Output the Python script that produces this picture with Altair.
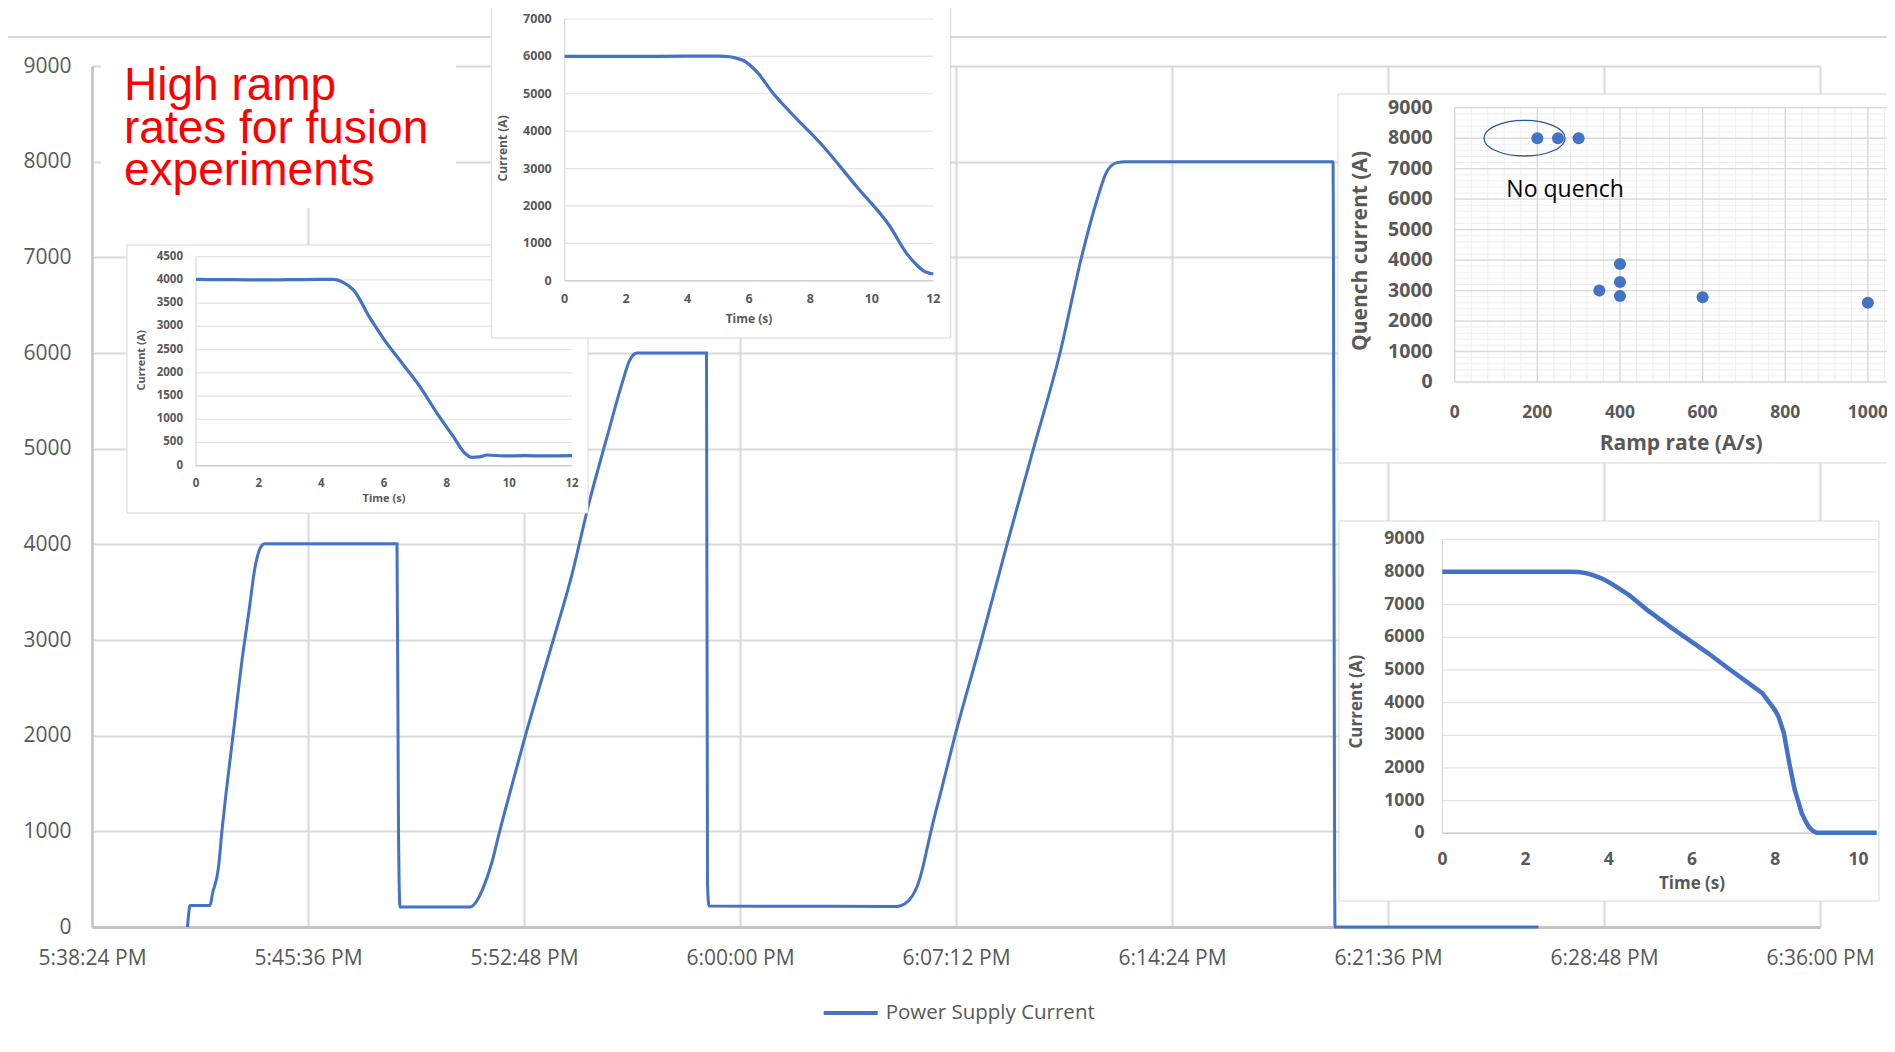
import altair as alt
import pandas as pd

# ---------------- main trace (seconds after 5:38:24 PM, amps) ----------------
SERIES = "Power Supply Current"
MAIN_T = [191, 193, 196, 236, 241, 253, 260, 268, 284, 299, 314, 326, 334, 340, 345,
          610, 613, 616, 756, 768, 783, 799, 814, 837, 864, 883, 922, 960, 995, 1030,
          1060, 1075, 1090, 1229, 1231, 1234, 1610, 1625, 1640, 1650, 1660, 1668, 1677,
          1700, 1726, 1779, 1830, 1883, 1936, 1979, 2010, 2030, 2050, 2066, 2482, 2486, 2893]
MAIN_I = [0, 120, 226, 226, 348, 626, 1009, 1391, 2087, 2748, 3304, 3757, 3930, 3990, 4007,
          4007, 1000, 209, 209, 261, 417, 661, 974, 1426, 1948, 2296, 2991, 3687, 4452, 5120,
          5680, 5920, 6000, 6000, 450, 220, 215, 240, 320, 420, 590, 770, 980,
          1460, 2000, 3000, 4000, 5000, 6000, 7000, 7600, 7900, 7990, 8000, 8000, 0, 0]
X_TICKS = ["17:38:24", "17:45:36", "17:52:48", "18:00:00", "18:07:12",
           "18:14:24", "18:21:36", "18:28:48", "18:36:00"]
Y_TICKS = [0, 1000, 2000, 3000, 4000, 5000, 6000, 7000, 8000, 9000]

TITLE_LINES = ["High ramp", "rates for fusion", "experiments"]

# ---------------- inset: 4000 A discharge ----------------
L_T = [0, 1, 2, 3, 4, 4.39, 4.71, 5.03, 5.56, 6.0, 6.62, 7.2, 7.69, 8.22, 8.54, 8.81,
       9.05, 9.29, 9.82, 10.5, 11.2, 12]
L_I = [4010, 4005, 4000, 4005, 4010, 4010, 3940, 3780, 3170, 2720, 2170, 1650, 1130, 620,
       300, 180, 190, 230, 210, 215, 212, 215]
L_XT = [0, 2, 4, 6, 8, 10, 12]
L_YT = [0, 500, 1000, 1500, 2000, 2500, 3000, 3500, 4000, 4500]

# ---------------- inset: 6000 A discharge ----------------
T_T = [0, 2, 4, 5.0, 5.38, 5.6, 5.82, 6.25, 6.79, 7.33, 8.42, 9.5, 10.59, 11.13, 11.46, 11.67, 12]
T_I = [6000, 6000, 6005, 6005, 5990, 5950, 5890, 5590, 5010, 4520, 3590, 2520, 1450, 730,
       420, 270, 180]
T_XT = [0, 2, 4, 6, 8, 10, 12]
T_YT = [0, 1000, 2000, 3000, 4000, 5000, 6000, 7000]

# ---------------- inset: 8000 A discharge ----------------
B_T = [0, 1, 2, 3.0, 3.27, 3.45, 3.62, 3.85, 4.05, 4.25, 4.48, 4.92, 5.52, 6.39, 6.82, 7.69,
       7.99, 8.08, 8.21, 8.34, 8.47, 8.64, 8.74, 8.81, 8.9, 8.99, 9.3, 10.44]
B_I = [8010, 8010, 8005, 8008, 8000, 7965, 7905, 7790, 7650, 7490, 7300, 6840, 6280, 5510,
       5100, 4290, 3780, 3570, 3060, 2140, 1330, 610, 350, 200, 80, 20, 20, 20]
B_XT = [0, 2, 4, 6, 8, 10]
B_YT = [0, 1000, 2000, 3000, 4000, 5000, 6000, 7000, 8000, 9000]

# ---------------- inset: quench current vs ramp rate ----------------
S_RATE = [200, 250, 300, 350, 400, 400, 400, 600, 1000]
S_QI = [8000, 8000, 8000, 3000, 3870, 3280, 2820, 2780, 2600]
S_XT = [0, 200, 400, 600, 800, 1000]
S_YT = [0, 1000, 2000, 3000, 4000, 5000, 6000, 7000, 8000, 9000]
S_MINOR_X = list(range(0, 1101, 40))
S_MINOR_Y = list(range(0, 9001, 200))
NOTE_TEXT = ["No quench"]
NOTE_RATE = [125]
NOTE_I = [6300]
RING_RATE = [169]
RING_I = [8000]

# ---------------- layout constants ----------------
W, H = 1728, 861
BLUE = "#4472C4"
GREY = "#595959"
ONE = pd.DataFrame({"k": [0]})
BASE = pd.Timestamp("2024-01-01 17:38:24")
ELLIPSE = "M-1,0A1,0.44,0,1,0,1,0A1,0.44,0,1,0,-1,0Z"


def dt(hms):
    h, m, s = (int(p) for p in hms.split(":"))
    return alt.DateTime(year=2024, month=1, date=1, hours=h, minutes=m, seconds=s)


def box(x0, x1, y0, y1, stroke="#d9d9d9", sw=1):
    return alt.Chart(ONE).mark_rect(fill="white", stroke=stroke, strokeWidth=sw).encode(
        x=alt.value(x0), x2=alt.value(x1), y=alt.value(y0), y2=alt.value(y1))


def hrules(vals, xs, ys, x0, x1, color, sw):
    return alt.Chart(pd.DataFrame({"v": vals})).mark_rule(color=color, strokeWidth=sw).encode(
        y=alt.Y("v:Q", scale=ys, axis=None),
        x=alt.X(datum=x0, scale=xs, axis=None), x2=alt.X2(datum=x1))


def vrules(vals, xs, ys, y0, y1, color, sw):
    return alt.Chart(pd.DataFrame({"v": vals})).mark_rule(color=color, strokeWidth=sw).encode(
        x=alt.X("v:Q", scale=xs, axis=None),
        y=alt.Y(datum=y0, scale=ys, axis=None), y2=alt.Y2(datum=y1))


def guides(xs, ys, xdom, ydom, xt, yt, lab, tsz, xlab_dy, ylab_dx, xtitle, xtitle_dy,
           ytitle, ytitle_px, ytitle_v, xlab=None):
    """Tick labels and titles of an inset, placed through the inset's own scales."""
    style = dict(font="Open Sans", fontWeight="bold", color=GREY)
    xl = alt.Chart(pd.DataFrame({"v": xt})).mark_text(
        align="center", baseline="middle", dy=xlab_dy, fontSize=xlab or lab, **style).encode(
        x=alt.X("v:Q", scale=xs, axis=None), y=alt.Y(datum=ydom[0], scale=ys, axis=None),
        text=alt.Text("v:Q", format="d"))
    yl = alt.Chart(pd.DataFrame({"v": yt})).mark_text(
        align="right", baseline="middle", dx=ylab_dx, fontSize=lab, **style).encode(
        y=alt.Y("v:Q", scale=ys, axis=None), x=alt.X(datum=xdom[0], scale=xs, axis=None),
        text=alt.Text("v:Q", format="d"))
    xtl = alt.Chart(ONE).mark_text(
        align="center", baseline="middle", dy=xtitle_dy, fontSize=tsz, **style).encode(
        x=alt.X(datum=xtitle[0], scale=xs, axis=None), y=alt.Y(datum=ydom[0], scale=ys, axis=None),
        text=alt.value(xtitle[1]))
    ytl = alt.Chart(ONE).mark_text(
        align="center", baseline="middle", angle=270, fontSize=tsz, **style).encode(
        x=alt.value(ytitle_px), y=alt.Y(datum=ytitle_v, scale=ys, axis=None),
        text=alt.value(ytitle))
    return [xl, yl, xtl, ytl]


def curve_inset(t, i, xdom, xr, ydom, yr, xt, yt, bx, lab, tsz, pads, sw, interp):
    xs = alt.Scale(domain=xdom, range=xr, nice=False, zero=False)
    ys = alt.Scale(domain=ydom, range=yr, nice=False, zero=False)
    bg = box(*bx)
    grid = hrules(yt, xs, ys, xdom[0], xdom[1], "#e3e3e3", 1.2)
    base = hrules([ydom[0]], xs, ys, xdom[0], xdom[1], "#cfcfcf", 1.5)
    vax = vrules([xdom[0]], xs, ys, ydom[0], ydom[1], "#d9d9d9", 1.2)
    line = alt.Chart(pd.DataFrame({"t": t, "i": i})).mark_line(
        color=BLUE, strokeWidth=sw, interpolate=interp).encode(
        x=alt.X("t:Q", scale=xs, axis=None), y=alt.Y("i:Q", scale=ys, axis=None))
    g = guides(xs, ys, xdom, ydom, xt, yt, lab, tsz, pads[0], pads[1], (pads[2], "Time (s)"),
               pads[3], "Current (A)", pads[4], pads[5])
    return alt.layer(bg, grid, base, vax, line, *g)


# ---------------- main chart ----------------
main_df = pd.DataFrame({"t": BASE + pd.to_timedelta(MAIN_T, unit="s"),
                        "I": MAIN_I, "series": [SERIES] * len(MAIN_T)})

main = alt.Chart(main_df).mark_line(strokeWidth=3, interpolate="monotone").encode(
    x=alt.X("t:T", scale=alt.Scale(domain=[dt(X_TICKS[0]), dt(X_TICKS[-1])]),
            axis=alt.Axis(orient="bottom", values=[dt(v) for v in X_TICKS], format="%-I:%M:%S %p",
                          formatType="time", title=None, grid=True, gridColor="#d9d9d9", gridWidth=2,
                          domainColor="#c4c4c4", domainWidth=3, ticks=False, tickSize=0,
                          labelFont="Open Sans", labelFontSize=21, labelColor=GREY, labelPadding=20,
                          labelFlush=False, labelOverlap=False, labelBound=False)),
    y=alt.Y("I:Q", scale=alt.Scale(domain=[0, 9000], nice=False, zero=False),
            axis=alt.Axis(orient="left", values=Y_TICKS, format="d", title=None, grid=True,
                          gridColor="#d9d9d9", gridWidth=2, domainColor="#c4c4c4", domainWidth=2.5,
                          ticks=False, tickSize=0, labelFont="Open Sans", labelFontSize=21,
                          labelColor=GREY, labelPadding=21)),
    color=alt.Color("series:N", scale=alt.Scale(range=[BLUE]),
                    legend=alt.Legend(orient="none", legendX=729.7, legendY=918, title=None,
                                      symbolType="stroke", symbolSize=2916, symbolStrokeWidth=4,
                                      labelFont="Open Sans", labelFontSize=20.5, labelColor=GREY,
                                      labelOffset=6, labelLimit=0, padding=0)),
)

frame = alt.Chart(ONE).mark_rule(color="#d9d9d9", strokeWidth=2).encode(
    x=alt.value(-84), x2=alt.value(1795), y=alt.value(-29))

tbox = alt.Chart(ONE).mark_rect(fill="white", strokeWidth=0).encode(
    x=alt.value(9), x2=alt.value(364), y=alt.value(-8), y2=alt.value(142))

headline = alt.Chart(ONE).mark_text(align="left", baseline="alphabetic", font="Liberation Sans",
                                    fontSize=46, color="#FF0000", lineHeight=42.5).encode(
    x=alt.value(32), y=alt.value(34), text=alt.value(TITLE_LINES))

# ---------------- insets ----------------
# pads: x-label dy, y-label dx, x-title centre (data), x-title dy, y-title x (px), y-title centre (data)
inset_L = curve_inset(L_T, L_I, [0, 12], [104, 480], [0, 4500], [399.7, 190.7], L_XT, L_YT,
                      (35, 496, 179, 447), 11.5, 11, (18.3, -13, 6, 33.3, 49.7, 2270), 3.2,
                      "monotone")
inset_T = curve_inset(T_T, T_I, [0, 12], [472.7, 841.3], [0, 7000], [214.7, -47], T_XT, T_YT,
                      (399.7, 858.7, -61, 272), 12.5, 12, (18.6, -13, 6, 38.6, 410.7, 3540), 3.2,
                      "monotone")
inset_B = curve_inset(B_T, B_I, [0, 10.44], [1350.4, 1784.7], [0, 9000], [767.3, 473.3], B_XT, B_YT,
                      (1247, 1787, 455, 835), 17.5, 17, (26.7, -18, 6, 50.7, 1265, 4030), 4.5,
                      "linear")

sxs = alt.Scale(domain=[0, 1100], range=[1362.7, 1817.2], nice=False, zero=False)
sys_ = alt.Scale(domain=[0, 9000], range=[316, 41.7], nice=False, zero=False)

s_bg = box(1246, 1820, 28, 397)
s_pts = alt.Chart(pd.DataFrame({"rate": S_RATE, "qi": S_QI})).mark_circle(
    size=145, color=BLUE, opacity=1).encode(
    x=alt.X("rate:Q", scale=sxs, axis=None), y=alt.Y("qi:Q", scale=sys_, axis=None))
s_ring = alt.Chart(pd.DataFrame({"x": RING_RATE, "y": RING_I})).mark_point(
    shape=ELLIPSE, size=6561, filled=False, color="#2F5597", strokeWidth=1.3, opacity=1).encode(
    x=alt.X("x:Q", scale=sxs, axis=None), y=alt.Y("y:Q", scale=sys_, axis=None))
s_note = alt.Chart(pd.DataFrame({"x": NOTE_RATE, "y": NOTE_I, "text": NOTE_TEXT})).mark_text(
    align="left", baseline="middle", font="Open Sans", fontSize=23, color="black").encode(
    x=alt.X("x:Q", scale=sxs, axis=None), y=alt.Y("y:Q", scale=sys_, axis=None), text="text:N")
s_guides = guides(sxs, sys_, [0, 1100], [0, 9000], S_XT, S_YT, 19.5, 21, 30.7, -22,
                  (548, "Ramp rate (A/s)"), 62, "Quench current (A)", 1268.6, 4300, xlab=17.5)

inset_S = alt.layer(s_bg,
                    vrules(S_MINOR_X, sxs, sys_, 0, 9000, "#efefef", 1),
                    hrules(S_MINOR_Y, sxs, sys_, 0, 1100, "#efefef", 1),
                    vrules(S_XT, sxs, sys_, 0, 9000, "#d9d9d9", 1.3),
                    hrules(S_YT, sxs, sys_, 0, 1100, "#d9d9d9", 1.3),
                    s_ring, s_pts, s_note, *s_guides)

chart = alt.layer(frame, main, tbox, headline, inset_L, inset_T, inset_S, inset_B).resolve_scale(
    x="independent", y="independent"
).properties(
    width=W, height=H,
    padding={"left": 84, "top": 58, "right": 67, "bottom": 117},
    autosize=alt.AutoSizeParams(type="none"),
).configure_view(strokeWidth=0)

chart.save("out.html", embed_options={"renderer": "svg", "actions": False})
